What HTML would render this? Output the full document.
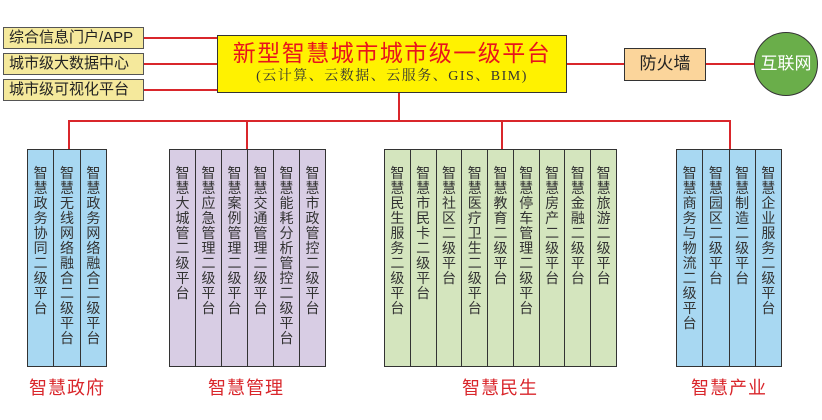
<!DOCTYPE html>
<html><head><meta charset="utf-8"><style>
body{margin:0;width:822px;height:420px;background:#fff;position:relative;overflow:hidden;font-family:"Liberation Sans","Noto Sans CJK SC",sans-serif}
.a{position:absolute;box-sizing:border-box}
.lb{background:#f5e99c;border:1.5px solid #555;font-size:15px;color:#222;line-height:19px;padding-left:5px;left:3px;width:141px}
.ln{position:absolute;background:#d9262b}
.g{position:absolute;top:149px;height:218px;display:flex;border:1.5px solid #333;box-sizing:border-box}
.g div{flex:1;border-left:1.5px solid #333;padding-top:16px;box-sizing:border-box}
.g div span{display:block;width:14px;margin:0 auto;font-size:14px;line-height:15px;color:#333;word-break:break-all;text-align:center}
.g div:first-child{border-left:none}
.t{position:absolute;top:374px;font-size:18px;color:#d9262b;letter-spacing:1px;text-align:center}
</style></head><body>
<div class="a lb" style="top:27px;height:22px">综合信息门户/APP</div>
<div class="a lb" style="top:53px;height:22px">城市级大数据中心</div>
<div class="a lb" style="top:79px;height:22px">城市级可视化平台</div>
<div class="ln" style="left:144px;top:37px;width:73px;height:1.5px"></div>
<div class="ln" style="left:144px;top:63px;width:73px;height:1.5px"></div>
<div class="ln" style="left:144px;top:89px;width:73px;height:1.5px"></div>
<div class="a" style="left:217px;top:35px;width:350px;height:58px;background:#fff200;border:1.5px solid #333;text-align:center">
<div style="color:#e8141c;font-size:23px;line-height:28px;margin-top:3px;letter-spacing:1.5px">新型智慧城市城市级一级平台</div>
<div style="color:#333;font-size:14px;line-height:20px;font-family:'Liberation Serif','Noto Serif CJK SC',serif;letter-spacing:1.5px">(云计算、云数据、云服务、GIS、BIM)</div>
</div>
<div class="ln" style="left:567px;top:63px;width:57px;height:1.5px"></div>
<div class="a" style="left:624px;top:48px;width:82px;height:33px;background:#fbd59b;border:1.5px solid #333;font-size:17px;line-height:30px;text-align:center;color:#222">防火墙</div>
<div class="ln" style="left:706px;top:63px;width:50px;height:1.5px"></div>
<div class="a" style="left:754px;top:32px;width:64px;height:64px;border-radius:50%;background:#6aae4a;border:1.5px solid #333;color:#fff;font-size:17px;line-height:61px;text-align:center">互联网</div>
<div class="ln" style="left:398px;top:93px;width:1.5px;height:28px"></div>
<div class="ln" style="left:68px;top:120px;width:662px;height:1.5px"></div>
<div class="ln" style="left:68px;top:120px;width:1.5px;height:30px"></div>
<div class="ln" style="left:246px;top:120px;width:1.5px;height:30px"></div>
<div class="ln" style="left:501px;top:120px;width:1.5px;height:30px"></div>
<div class="ln" style="left:729px;top:120px;width:1.5px;height:30px"></div>
<div class="g" style="left:27px;width:80px;background:#a8d8f2"><div><span>智慧政务协同二级平台</span></div><div><span>智慧无线网络融合二级平台</span></div><div><span>智慧政务网络融合二级平台</span></div></div>
<div class="g" style="left:169px;width:157px;background:#d8cde4"><div><span>智慧大城管二级平台</span></div><div><span>智慧应急管理二级平台</span></div><div><span>智慧案例管理二级平台</span></div><div><span>智慧交通管理二级平台</span></div><div><span>智慧能耗分析管控二级平台</span></div><div><span>智慧市政管控二级平台</span></div></div>
<div class="g" style="left:384px;width:233px;background:#d4e5be"><div><span>智慧民生服务二级平台</span></div><div><span>智慧市民卡二级平台</span></div><div><span>智慧社区二级平台</span></div><div><span>智慧医疗卫生二级平台</span></div><div><span>智慧教育二级平台</span></div><div><span>智慧停车管理二级平台</span></div><div><span>智慧房产二级平台</span></div><div><span>智慧金融二级平台</span></div><div><span>智慧旅游二级平台</span></div></div>
<div class="g" style="left:676px;width:106px;background:#a8d8f2"><div><span>智慧商务与物流二级平台</span></div><div><span>智慧园区二级平台</span></div><div><span>智慧制造二级平台</span></div><div><span>智慧企业服务二级平台</span></div></div>
<div class="t" style="left:17px;width:100px">智慧政府</div>
<div class="t" style="left:196px;width:100px">智慧管理</div>
<div class="t" style="left:450px;width:100px">智慧民生</div>
<div class="t" style="left:679px;width:100px">智慧产业</div>
</body></html>
